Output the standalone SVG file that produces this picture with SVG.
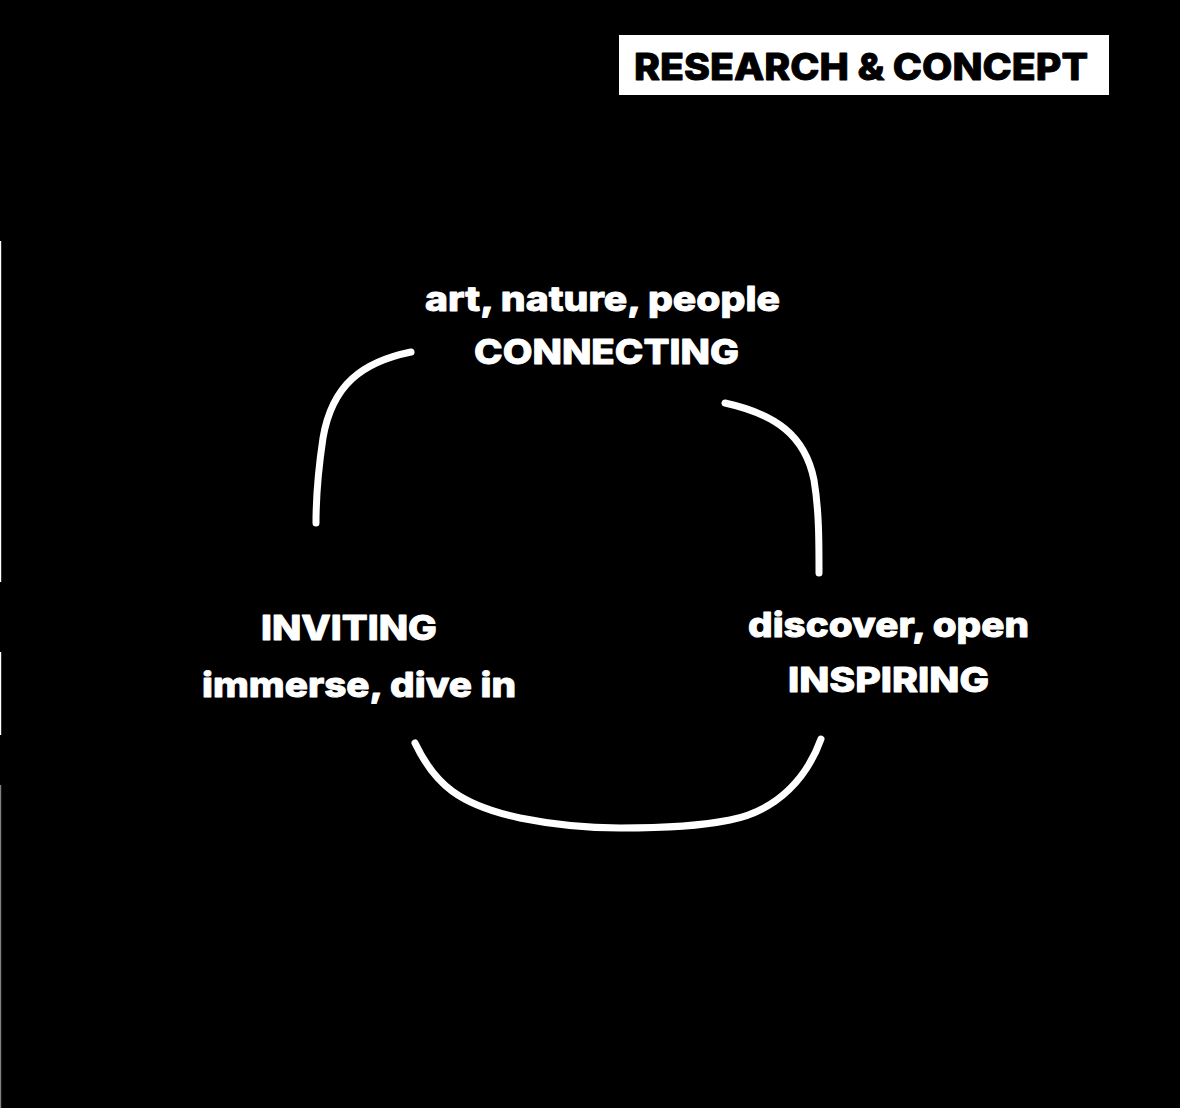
<svg xmlns="http://www.w3.org/2000/svg" width="1180" height="1108" viewBox="0 0 1180 1108">
<style>
.t{font-family:Inter,"Open Sans","Liberation Sans",sans-serif;font-weight:800;fill:#fff;stroke:#fff;stroke-width:0.9;stroke-linejoin:round}
.h{font-family:Inter,"Open Sans","Liberation Sans",sans-serif;font-weight:800;fill:#000;stroke:#000;stroke-width:0.9;stroke-linejoin:round}
.d{fill:none;stroke:#fff;stroke-width:7;stroke-linecap:round;stroke-linejoin:round}
.edge{stroke:#fff;stroke-width:1.2}
</style>
<rect x="0" y="0" width="1180" height="1108" fill="#000"/>
<g id="edge-marks">
<line class="edge" x1="0.6" y1="241" x2="0.6" y2="582"/>
<line class="edge" x1="0.6" y1="652" x2="0.6" y2="735"/>
<line class="edge" x1="0.6" y1="785" x2="0.6" y2="1108" stroke-opacity="0.5"/>
</g>
<g id="title">
<rect x="619" y="35" width="490" height="60" fill="#fff"/>
<text class="h" x="634" y="80" font-size="37" textLength="454" lengthAdjust="spacingAndGlyphs">RESEARCH &amp; CONCEPT</text>
</g>
<g id="connectors">
<path class="d" d="M411,352 C362,362 332,385 323,438 C317,478 316,500 316,523"/>
<path class="d" d="M725,403 C775,414 805,435 814,480 C819,510 819,540 819,573"/>
<path class="d" d="M415,743 C435,785 460,805 520,818 C560,826 590,828 620,828 C670,828 700,826 730,820 C780,810 808,775 821,739"/>
</g>
<g id="node-connecting">
<text class="t" x="425" y="311" font-size="34" textLength="355" lengthAdjust="spacingAndGlyphs">art, nature, people</text>
<text class="t" x="474" y="364" font-size="34" textLength="265" lengthAdjust="spacingAndGlyphs">CONNECTING</text>
</g>
<g id="node-inspiring">
<text class="t" x="748" y="637" font-size="34" textLength="281" lengthAdjust="spacingAndGlyphs">discover, open</text>
<text class="t" x="788" y="692" font-size="34" textLength="201" lengthAdjust="spacingAndGlyphs">INSPIRING</text>
</g>
<g id="node-inviting">
<text class="t" x="261" y="640" font-size="34" textLength="176" lengthAdjust="spacingAndGlyphs">INVITING</text>
<text class="t" x="202" y="697" font-size="34" textLength="314" lengthAdjust="spacingAndGlyphs">immerse, dive in</text>
</g>
</svg>
